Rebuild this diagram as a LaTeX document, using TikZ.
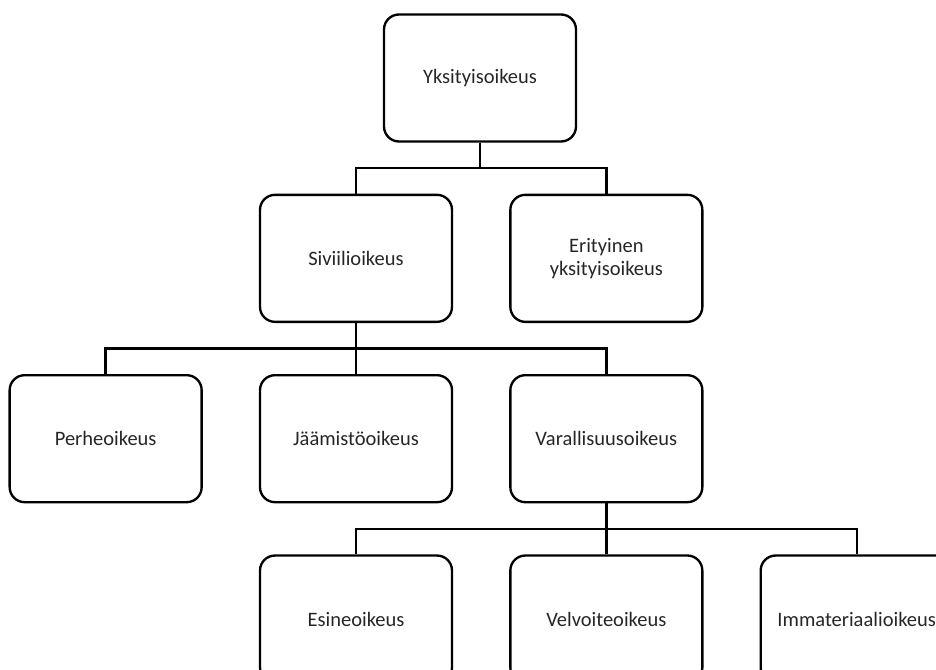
\documentclass[tikz,border=0pt]{standalone}
\usepackage{fontspec}
\setmainfont{Carlito}
\usetikzlibrary{positioning}

\tikzset{
  box/.style={draw, line width=2pt, rounded corners=0.45cm, minimum width=5.76cm,
    minimum height=3.81cm, align=center, text=black!85,
    font=\fontsize{17.5}{20}\selectfont},
  link/.style={line width=2pt}
}

\begin{document}
\begin{tikzpicture}[node distance=1.53cm and 1.68cm]
	\useasboundingbox (0,0) rectangle (28.08,-20.1);
	% ylin taso
	\node[box] (yksi) at (14.4,-2.34) {Yksityisoikeus};
	% toinen taso
	\node[box, below=of yksi, xshift=-3.72cm] (sivi) {Siviilioikeus};
	\node[box, right=of sivi] (erit) {Erityinen\\yksityisoikeus};
	% kolmas taso
	\node[box, below=of sivi] (jaam) {Jäämistöoikeus};
	\node[box, left=of jaam] (perhe) {Perheoikeus};
	\node[box, right=of jaam] (vara) {Varallisuusoikeus};
	% neljäs taso
	\node[box, below=of jaam] (esine) {Esineoikeus};
	\node[box, right=of esine] (velv) {Velvoiteoikeus};
	\node[box, right=of velv] (imma) {Immateriaalioikeus};
	% yhteydet
	\foreach \c in {sivi,erit}
		\draw[link] (yksi.south) -- ++(0,-0.765) -| (\c.north);
	\foreach \c in {perhe,jaam,vara}
		\draw[link] (sivi.south) -- ++(0,-0.765) -| (\c.north);
	\foreach \c in {esine,velv,imma}
		\draw[link] (vara.south) -- ++(0,-0.765) -| (\c.north);
\end{tikzpicture}
\end{document}
